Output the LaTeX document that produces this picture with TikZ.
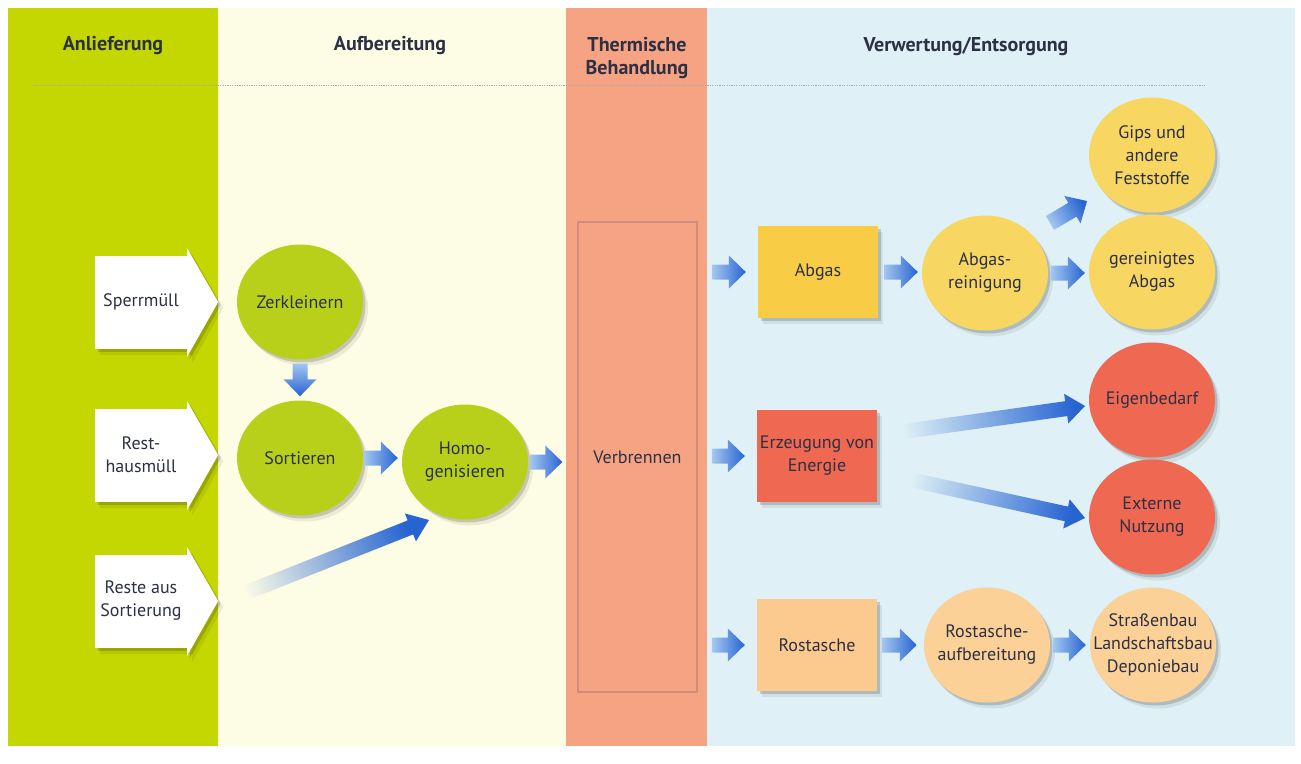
\documentclass[tikz,border=0pt]{standalone}
\usepackage{fontspec}
\setmainfont{PT Sans}
\usetikzlibrary{calc,shadows,shapes.geometric}

\definecolor{ink}{HTML}{2C3044}
\definecolor{limepanel}{HTML}{C4D700}
\definecolor{limenode}{HTML}{B9D01A}
\definecolor{creampanel}{HTML}{FDFDE6}
\definecolor{salmon}{HTML}{F6A383}
\definecolor{salmonedge}{HTML}{CF8C7C}
\definecolor{skypanel}{HTML}{DFF1F6}
\definecolor{gasyellow}{HTML}{F8CD45}
\definecolor{paleyellow}{HTML}{F8D662}
\definecolor{energyred}{HTML}{EF6852}
\definecolor{ashorange}{HTML}{FCC98E}
\definecolor{ashlight}{HTML}{FBD198}
\definecolor{arrowlight}{HTML}{A3C6F0}
\definecolor{arrowmid}{HTML}{6A98E2}
\definecolor{arrowdark}{HTML}{2764D2}
\definecolor{rulegray}{HTML}{A9A9A9}

% block arrow: #1 tail, #2 tip, #3 shaft half width, #4 head half width,
% #5 head length, #6 fill / shading options
\newcommand{\flowarrow}[6]{%
  \coordinate (fa-neck) at ($(#2)!#5!(#1)$);
  \path[#6]
    ($(#1)!#3!90:(#2)$) --
    ($(fa-neck)!#3!90:(#2)$) --
    ($(fa-neck)!#4!90:(#2)$) --
    (#2) --
    ($(fa-neck)!#4!-90:(#2)$) --
    ($(fa-neck)!#3!-90:(#2)$) --
    ($(#1)!#3!-90:(#2)$) -- cycle;
}
% short horizontal arrow between two nodes: #1 start anchor, #2 target anchor,
% #3 gap after start, #4 gap before target
\newcommand{\hflow}[4]{%
  \coordinate (hf-a) at ($(#1)+(#3,0)$);
  \coordinate (hf-t) at (hf-a -| #2);
  \coordinate (hf-b) at ($(hf-t)+(-#4,0)$);
  \flowarrow{hf-a}{hf-b}{7.5pt}{16.5pt}{17pt}{left color=arrowlight, right color=arrowdark}%
}

\begin{document}
\begin{tikzpicture}[x=1pt, y=-1pt,
  every node/.style={text=ink, font=\fontsize{18}{23}\selectfont, align=center, inner sep=0pt},
  header/.style={font=\fontsize{20}{23}\selectfont\bfseries},
  softshadow/.style={
    drop shadow={fill=black, opacity=.07, shadow xshift=5pt, shadow yshift=-6pt},
    drop shadow={fill=black, opacity=.16, shadow xshift=2.5pt, shadow yshift=-3pt}},
  blob/.style={ellipse, inner xsep=-30pt, inner ysep=-25pt,
    minimum width=126pt, minimum height=115pt, softshadow},
  box/.style={rectangle, minimum width=120pt, minimum height=92pt, softshadow},
  inbody/.style={rectangle, fill=white, minimum width=92pt, minimum height=93pt, softshadow},
  inhead/.style={fill=white, softshadow},
]
\useasboundingbox (0,0) rectangle (1301,763);
\fill[white] (0,0) rectangle (1301,763);

% column backgrounds
\fill[limepanel]  (8,8)   rectangle (218,746);
\fill[creampanel] (218,8) rectangle (566,746);
\fill[salmon]     (566,8) rectangle (707,746);
\fill[skypanel]   (707,8) rectangle (1295,746);
\draw[rulegray, line width=.9pt, dash pattern=on 1.2pt off 1.2pt] (33,85) -- (1205,85);

% column headings
\node[header] (hLief) at (113,46) {Anlieferung};
\node[header] (hAuf)  at (390,46) {Aufbereitung};
\node[header] (hTherm) at (637,58) {Thermische\\Behandlung};
\node[header] (hVerw) at (966,46) {Verwertung/Entsorgung};

% incoming waste streams
\node[inbody] (sperr) at (141,302) {Sperrmüll};
\fill[inhead] ($(sperr.north east)+(0,-7)$) -- ($(sperr.east)+(31,0)$) -- ($(sperr.south east)+(0,8)$) -- cycle;
\node[inbody] (rest) at (141,455) {Rest-\\hausmüll};
\fill[inhead] ($(rest.north east)+(0,-7)$) -- ($(rest.east)+(31,0)$) -- ($(rest.south east)+(0,8)$) -- cycle;
\node[inbody] (reste) at (141,601) {Reste aus\\Sortierung};
\fill[inhead] ($(reste.north east)+(0,-7)$) -- ($(reste.east)+(31,0)$) -- ($(reste.south east)+(0,8)$) -- cycle;

% preparation
\node[blob, fill=limenode] (zerk) at (300,302) {Zerkleinern};
\node[blob, fill=limenode] (sort) at (300,458) {Sortieren};
\node[blob, fill=limenode] (homo) at (465,462) {Homo-\\genisieren};

% incineration
\node[draw=salmonedge, line width=1.3pt, minimum width=119pt, minimum height=470pt] (verb) at (637.5,457) {Verbrennen};

% recovery / disposal
\node[box, fill=gasyellow] (abgas) at (818,272) {Abgas};
\node[box, fill=energyred] (energy) at (817,456) {Erzeugung von\\Energie};
\node[box, fill=ashorange] (rost) at (817,645) {Rostasche};
\node[blob, fill=paleyellow] (rein) at (985,273) {Abgas-\\reinigung};
\node[blob, fill=paleyellow] (gips) at (1152,155) {Gips und\\andere\\Feststoffe};
\node[blob, fill=paleyellow] (clean) at (1152,272) {gereinigtes\\Abgas};
\node[blob, fill=energyred] (eigen) at (1152,400) {Eigenbedarf};
\node[blob, fill=energyred] (extern) at (1152,517) {Externe\\Nutzung};
\node[blob, fill=ashlight] (rostauf) at (987,645) {Rostasche-\\aufbereitung};
\node[blob, fill=ashlight] (strasse) at (1153,645) {Straßenbau\\Landschaftsbau\\Deponiebau};

% short flow arrows
\coordinate (zs-a) at ($(zerk.south)+(0,4)$);
\coordinate (zs-b) at ($(sort.north)+(0,-4)$);
\flowarrow{zs-a}{zs-b}{7.5pt}{16.5pt}{17pt}{top color=arrowlight, bottom color=arrowdark}
\hflow{sort.east}{homo.west}{1}{4}
\hflow{homo.east}{verb.west}{2}{15}
\hflow{verb.east |- abgas.west}{abgas.west}{15}{12}
\hflow{verb.east |- energy.west}{energy.west}{15}{12}
\hflow{verb.east |- rost.west}{rost.west}{15}{12}
\hflow{abgas.east}{rein.west}{6}{4}
\hflow{rein.east}{clean.west}{3}{4}
\hflow{rost.east}{rostauf.west}{5}{7}
\hflow{rostauf.east}{strasse.west}{3}{4}

% long fading arrows
\coordinate (rh-a) at ($(reste.east)+(38,0)$);
\coordinate (rh-b) at ($(homo.center)+(-36,58)$);
\flowarrow{rh-a}{rh-b}{7.5pt}{15pt}{20pt}{top color=creampanel, middle color=arrowmid, bottom color=arrowdark, shading angle=111.6}
\coordinate (ee-a) at ($(energy.center)+(76,-23)$);
\coordinate (ee-b) at ($(eigen.center)+(-67,6)$);
\flowarrow{ee-a}{ee-b}{7.5pt}{15pt}{19pt}{top color=skypanel, middle color=arrowmid, bottom color=arrowdark, shading angle=98}
\coordinate (ex-a) at ($(energy.center)+(81,21)$);
\coordinate (ex-b) at ($(extern.center)+(-67,1)$);
\flowarrow{ex-a}{ex-b}{7.5pt}{15pt}{19pt}{top color=skypanel, middle color=arrowmid, bottom color=arrowdark, shading angle=77.6}
\coordinate (rg-a) at ($(rein.center)+(65,-50)$);
\coordinate (rg-b) at ($(gips.center)+(-65,46)$);
\flowarrow{rg-a}{rg-b}{8pt}{16pt}{17pt}{top color=arrowlight, bottom color=arrowdark, shading angle=119.6}
\end{tikzpicture}
\end{document}
